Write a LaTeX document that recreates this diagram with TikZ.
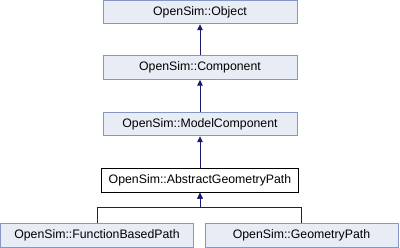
\documentclass[tikz,border=0pt]{standalone}
\usepackage{fontspec}
\setmainfont{Liberation Sans}
\usetikzlibrary{arrows.meta}
\definecolor{boxfill}{HTML}{E8ECF5}
\definecolor{boxline}{HTML}{8497C7}
\definecolor{edgeblue}{HTML}{191970}
\tikzset{
  cls/.style={draw=boxline, fill=boxfill, line width=1pt, inner sep=0pt,
    minimum height=23.5pt, font=\fontsize{12.3}{14}\selectfont},
  current/.style={draw=black, fill=white, line width=1pt, inner sep=0pt,
    minimum height=23.5pt, font=\fontsize{12.3}{14}\selectfont},
  inherit/.style={draw=edgeblue, line width=1pt,
    -{Triangle[length=6pt,width=5.5pt]}}
}
\begin{document}
\begin{tikzpicture}[x=1pt,y=-1pt]
  \useasboundingbox (0,0) rectangle (400,248);
  \node[cls, minimum width=194pt] (obj) at (200,12) {OpenSim::Object};
  \node[cls, minimum width=194pt] (comp) at (200,67.5) {OpenSim::Component};
  \node[cls, minimum width=194pt] (mc) at (200,124) {OpenSim::ModelComponent};
  \node[current, minimum width=197pt] (agp) at (200,180.5) {OpenSim::AbstractGeometryPath};
  \node[cls, minimum width=192.5pt] (fbp) at (97,235.5) {OpenSim::FunctionBasedPath};
  \node[cls, minimum width=193pt] (gp) at (301.5,235.5) {OpenSim::GeometryPath};
  \coordinate (bus) at (200,208);
  \draw[inherit] (comp) -- (obj);
  \draw[inherit] (mc) -- (comp);
  \draw[inherit] (agp) -- (mc);
  \draw[inherit] (fbp.north) |- (bus) -- (agp.south);
  \draw[inherit] (gp.north) |- (bus) -- (agp.south);
\end{tikzpicture}
\end{document}
